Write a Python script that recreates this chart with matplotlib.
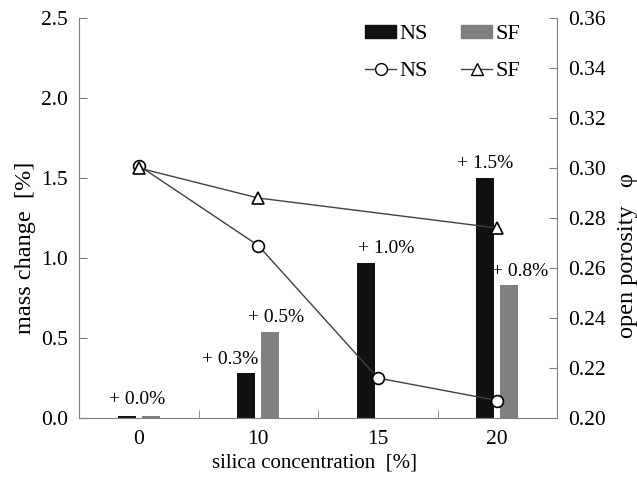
import matplotlib
matplotlib.use("Agg")
import matplotlib.pyplot as plt
import numpy as np
from matplotlib.lines import Line2D
from matplotlib.patches import Patch

categories = ["0", "10", "15", "20"]
ns_mass = [0.01, 0.28, 0.97, 1.50]
sf_mass = [0.01, 0.54, np.nan, 0.83]
ns_labels = ["", "+ 0.3%", "+ 1.0%", "+ 1.5%"]
sf_labels = ["", "+ 0.5%", "", "+ 0.8%"]
zero_label = "+ 0.0%"
ns_porosity = [0.301, 0.269, 0.216, 0.207]
sf_porosity = [0.300, 0.288, np.nan, 0.276]

plt.rcParams['font.family'] = ['Liberation Serif', 'DejaVu Serif']
plt.rcParams['font.size'] = 15

fig = plt.figure(figsize=(6.37, 4.79), dpi=100)
ax = fig.add_axes([79/637, 61/479, 478/637, 400/479])
ax2 = ax.twinx()

x = np.arange(len(categories))
w = 0.15
off = 0.10
ax.bar(x - off, ns_mass, width=w, color='#111111', zorder=2)
ax.bar(x + off, np.nan_to_num(sf_mass), width=w, color='#808080', zorder=2)

# labels
ns_dx = [0, -12, 15, 0]
sf_dx = [0, 4, 0, 8]
for i in range(len(x)):
    if ns_labels[i]:
        ax.annotate(ns_labels[i], (x[i] - off, ns_mass[i]), xytext=(ns_dx[i], 4),
                    textcoords='offset points', ha='center', va='bottom', fontsize=14)
    if sf_labels[i]:
        ax.annotate(sf_labels[i], (x[i] + off, sf_mass[i]), xytext=(sf_dx[i], 4),
                    textcoords='offset points', ha='center', va='bottom', fontsize=14)
ax.annotate(zero_label, (x[0], 0.01), xytext=(-1, 6), textcoords='offset points',
            ha='center', va='bottom', fontsize=14)

# lines
sf_mask = ~np.isnan(np.array(sf_porosity))
ax2.plot(x, ns_porosity, color='#404040', lw=1.0, marker='o', ms=8.5,
         mfc='white', mec='black', mew=1.2, zorder=3)
ax2.plot(x[sf_mask], np.array(sf_porosity)[sf_mask], color='#404040', lw=1.0,
         marker='^', ms=8.5, mfc='white', mec='black', mew=1.2, zorder=3)

ax.set_xlim(-0.5, len(x) - 0.5)
ax.set_ylim(0, 2.5)
ax2.set_ylim(0.20, 0.36)
ax.set_yticks(np.arange(0, 2.51, 0.5))
ax.set_yticklabels([f"{v:.1f}" for v in np.arange(0, 2.51, 0.5)], fontsize=15.5)
ax2.set_yticks(np.arange(0.20, 0.3601, 0.02))
ax2.set_yticklabels([f"{v:.2f}" for v in np.arange(0.20, 0.3601, 0.02)], fontsize=15.5)
ax.set_xticks(x)
ax.set_xticklabels(categories, fontsize=15.5)
ax.set_xticks(np.arange(0.5, len(x) - 0.5, 1), minor=True)
ax.tick_params(axis='x', which='major', length=0, pad=9)
ax.tick_params(axis='x', which='minor', direction='in', length=6, color='#808080')
ax.tick_params(axis='y', direction='in', length=6, color='#808080', pad=8)
ax2.tick_params(axis='y', direction='in', length=6, color='#808080', pad=8)

for a in (ax, ax2):
    a.spines['top'].set_visible(False)
    for s in ('left', 'right', 'bottom'):
        a.spines[s].set_color('#808080')
ax.spines['right'].set_visible(False)
ax2.spines['left'].set_visible(False)
ax2.spines['bottom'].set_visible(False)

fig.text(315/637, 1 - 463/479, "silica concentration  [%]", ha='center', va='center', fontsize=15)
fig.text(26/637, 1 - 248/479, "mass change  [%]",
         rotation=90, ha='center', va='center', fontsize=17.5)
fig.text(628/637, 1 - 255/479, "open porosity   φ",
         rotation=90, ha='center', va='center', fontsize=17.5)

handles = [Patch(color='#111111'),
           Line2D([], [], color='#404040', lw=1, marker='o', ms=8.5, mfc='white', mec='black'),
           Patch(color='#808080'),
           Line2D([], [], color='#404040', lw=1, marker='^', ms=8.5, mfc='white', mec='black')]
labels = ["NS", "NS", "SF", "SF"]
ax2.legend(handles, labels, ncol=2, loc='upper left',
           bbox_to_anchor=((365 - 79) / 478, 1 - 7 / 400),
           borderaxespad=0, borderpad=0,
           frameon=False, handlelength=1.4, handleheight=0.5, handletextpad=0.15,
           columnspacing=1.5, labelspacing=0.8, fontsize=16)

fig.savefig("out.png", dpi=100)
